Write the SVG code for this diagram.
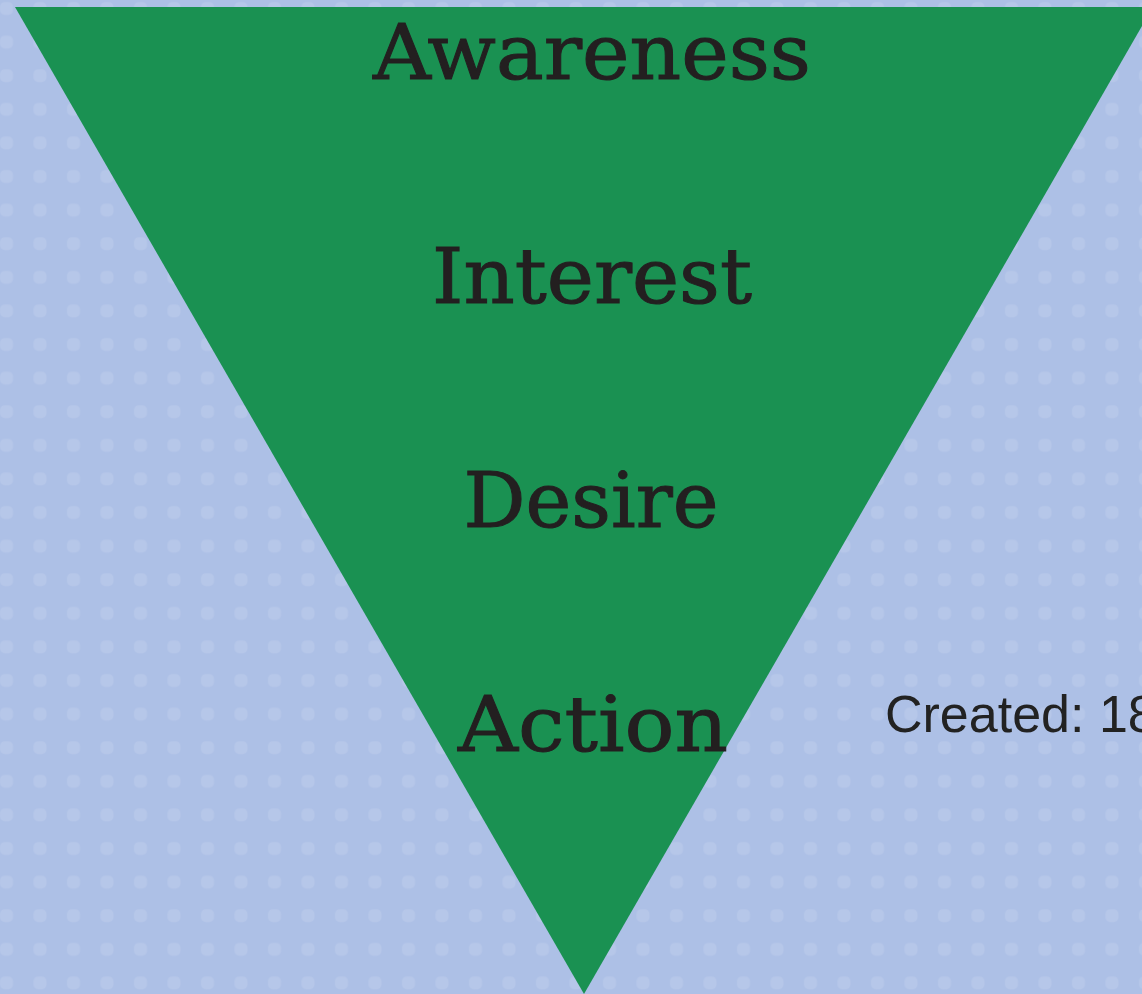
<svg xmlns="http://www.w3.org/2000/svg" width="1142" height="994" viewBox="0 0 1142 994">
<defs>
<pattern id="dots" x="-11" y="-9" width="33.5" height="33.6" patternUnits="userSpaceOnUse">
<rect x="11" y="11" width="13" height="13" rx="5" fill="#c0cdec" opacity="0.5"/>
</pattern>
<style>
.lbl{font-family:"DejaVu Serif",serif;fill:#231f20;stroke:#231f20;stroke-width:1;text-anchor:middle;font-size:77px;}
.note{font-family:"Liberation Sans",Arial,sans-serif;fill:#222;font-size:52px;}
</style>
</defs>
<rect width="1142" height="994" fill="#adc0e6"/>
<rect width="1142" height="994" fill="url(#dots)"/>
<g id="funnel">
<polygon points="15,7 1153,7 584,994" fill="#1a9152"/>
</g>
<g id="awareness"><text class="lbl" x="592" y="79" textLength="438" lengthAdjust="spacingAndGlyphs">Awareness</text></g>
<g id="interest"><text class="lbl" x="592" y="303" textLength="320" lengthAdjust="spacingAndGlyphs">Interest</text></g>
<g id="desire"><text class="lbl" x="591" y="527" textLength="255" lengthAdjust="spacingAndGlyphs">Desire</text></g>
<g id="action"><text class="lbl" x="593" y="751" textLength="270" lengthAdjust="spacingAndGlyphs">Action</text></g>
<g id="created"><text class="note" x="885" y="732">Created: 18</text></g>
<g id="connectors"/>
</svg>
